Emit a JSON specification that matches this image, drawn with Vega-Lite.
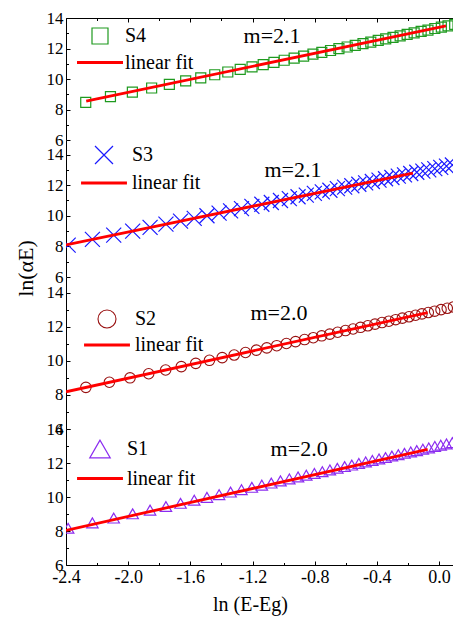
{
"$schema":"https://vega.github.io/schema/vega-lite/v6.json",
"padding":{"top":9,"left":14,"right":0,"bottom":4},
"background":"white",
"datasets":{
"pts":[
{"series":"S4","x":-2.273,"y":8.47},{"series":"S4","x":-2.114,"y":8.84},{"series":"S4","x":-1.973,"y":9.14},{"series":"S4","x":-1.849,"y":9.41},{"series":"S4","x":-1.735,"y":9.65},{"series":"S4","x":-1.630,"y":9.88},{"series":"S4","x":-1.533,"y":10.08},{"series":"S4","x":-1.443,"y":10.28},{"series":"S4","x":-1.359,"y":10.46},{"series":"S4","x":-1.279,"y":10.63},{"series":"S4","x":-1.203,"y":10.79},{"series":"S4","x":-1.131,"y":10.94},{"series":"S4","x":-1.062,"y":11.09},{"series":"S4","x":-0.996,"y":11.23},{"series":"S4","x":-0.932,"y":11.37},{"series":"S4","x":-0.871,"y":11.50},{"series":"S4","x":-0.811,"y":11.63},{"series":"S4","x":-0.754,"y":11.75},{"series":"S4","x":-0.698,"y":11.87},{"series":"S4","x":-0.644,"y":11.99},{"series":"S4","x":-0.591,"y":12.10},{"series":"S4","x":-0.539,"y":12.21},{"series":"S4","x":-0.489,"y":12.32},{"series":"S4","x":-0.439,"y":12.42},{"series":"S4","x":-0.391,"y":12.53},{"series":"S4","x":-0.343,"y":12.63},{"series":"S4","x":-0.296,"y":12.73},{"series":"S4","x":-0.250,"y":12.83},{"series":"S4","x":-0.205,"y":12.93},{"series":"S4","x":-0.160,"y":13.02},{"series":"S4","x":-0.115,"y":13.12},{"series":"S4","x":-0.071,"y":13.21},{"series":"S4","x":-0.027,"y":13.31},{"series":"S4","x":0.015,"y":13.40},{"series":"S4","x":0.058,"y":13.49},{"series":"S4","x":0.101,"y":13.58},
{"series":"S3","x":-2.386,"y":8.08},{"series":"S3","x":-2.230,"y":8.46},{"series":"S3","x":-2.093,"y":8.74},{"series":"S3","x":-1.971,"y":9.00},{"series":"S3","x":-1.859,"y":9.24},{"series":"S3","x":-1.757,"y":9.45},{"series":"S3","x":-1.663,"y":9.65},{"series":"S3","x":-1.575,"y":9.83},{"series":"S3","x":-1.493,"y":10.00},{"series":"S3","x":-1.415,"y":10.17},{"series":"S3","x":-1.341,"y":10.32},{"series":"S3","x":-1.271,"y":10.47},{"series":"S3","x":-1.204,"y":10.61},{"series":"S3","x":-1.140,"y":10.75},{"series":"S3","x":-1.079,"y":10.87},{"series":"S3","x":-1.020,"y":11.00},{"series":"S3","x":-0.963,"y":11.12},{"series":"S3","x":-0.907,"y":11.24},{"series":"S3","x":-0.854,"y":11.35},{"series":"S3","x":-0.802,"y":11.46},{"series":"S3","x":-0.751,"y":11.56},{"series":"S3","x":-0.702,"y":11.67},{"series":"S3","x":-0.654,"y":11.77},{"series":"S3","x":-0.607,"y":11.87},{"series":"S3","x":-0.561,"y":11.96},{"series":"S3","x":-0.516,"y":12.06},{"series":"S3","x":-0.472,"y":12.15},{"series":"S3","x":-0.429,"y":12.24},{"series":"S3","x":-0.386,"y":12.33},{"series":"S3","x":-0.344,"y":12.42},{"series":"S3","x":-0.303,"y":12.50},{"series":"S3","x":-0.262,"y":12.59},{"series":"S3","x":-0.222,"y":12.67},{"series":"S3","x":-0.182,"y":12.76},{"series":"S3","x":-0.143,"y":12.84},{"series":"S3","x":-0.104,"y":12.92},{"series":"S3","x":-0.066,"y":13.00},{"series":"S3","x":-0.027,"y":13.08},{"series":"S3","x":0.011,"y":13.16},{"series":"S3","x":0.048,"y":13.24},{"series":"S3","x":0.086,"y":13.32},
{"series":"S2","x":-2.272,"y":8.45},{"series":"S2","x":-2.121,"y":8.75},{"series":"S2","x":-1.988,"y":9.01},{"series":"S2","x":-1.868,"y":9.25},{"series":"S2","x":-1.759,"y":9.47},{"series":"S2","x":-1.658,"y":9.67},{"series":"S2","x":-1.565,"y":9.86},{"series":"S2","x":-1.477,"y":10.04},{"series":"S2","x":-1.395,"y":10.20},{"series":"S2","x":-1.318,"y":10.35},{"series":"S2","x":-1.245,"y":10.50},{"series":"S2","x":-1.175,"y":10.64},{"series":"S2","x":-1.108,"y":10.77},{"series":"S2","x":-1.044,"y":10.90},{"series":"S2","x":-0.982,"y":11.03},{"series":"S2","x":-0.923,"y":11.14},{"series":"S2","x":-0.865,"y":11.26},{"series":"S2","x":-0.809,"y":11.37},{"series":"S2","x":-0.755,"y":11.48},{"series":"S2","x":-0.703,"y":11.58},{"series":"S2","x":-0.652,"y":11.69},{"series":"S2","x":-0.602,"y":11.79},{"series":"S2","x":-0.553,"y":11.88},{"series":"S2","x":-0.505,"y":11.98},{"series":"S2","x":-0.458,"y":12.07},{"series":"S2","x":-0.412,"y":12.17},{"series":"S2","x":-0.367,"y":12.26},{"series":"S2","x":-0.323,"y":12.34},{"series":"S2","x":-0.279,"y":12.43},{"series":"S2","x":-0.236,"y":12.52},{"series":"S2","x":-0.193,"y":12.60},{"series":"S2","x":-0.151,"y":12.69},{"series":"S2","x":-0.110,"y":12.77},{"series":"S2","x":-0.069,"y":12.85},{"series":"S2","x":-0.028,"y":12.93},{"series":"S2","x":0.013,"y":13.02},{"series":"S2","x":0.053,"y":13.10},{"series":"S2","x":0.093,"y":13.18},
{"series":"S1","x":-2.386,"y":8.16},{"series":"S1","x":-2.230,"y":8.48},{"series":"S1","x":-2.093,"y":8.76},{"series":"S1","x":-1.971,"y":9.01},{"series":"S1","x":-1.859,"y":9.23},{"series":"S1","x":-1.757,"y":9.44},{"series":"S1","x":-1.663,"y":9.63},{"series":"S1","x":-1.575,"y":9.81},{"series":"S1","x":-1.493,"y":9.98},{"series":"S1","x":-1.415,"y":10.14},{"series":"S1","x":-1.341,"y":10.29},{"series":"S1","x":-1.271,"y":10.43},{"series":"S1","x":-1.204,"y":10.57},{"series":"S1","x":-1.140,"y":10.70},{"series":"S1","x":-1.079,"y":10.82},{"series":"S1","x":-1.020,"y":10.95},{"series":"S1","x":-0.963,"y":11.06},{"series":"S1","x":-0.907,"y":11.18},{"series":"S1","x":-0.854,"y":11.28},{"series":"S1","x":-0.802,"y":11.39},{"series":"S1","x":-0.751,"y":11.49},{"series":"S1","x":-0.702,"y":11.59},{"series":"S1","x":-0.654,"y":11.69},{"series":"S1","x":-0.607,"y":11.79},{"series":"S1","x":-0.561,"y":11.88},{"series":"S1","x":-0.516,"y":11.97},{"series":"S1","x":-0.472,"y":12.06},{"series":"S1","x":-0.429,"y":12.15},{"series":"S1","x":-0.386,"y":12.24},{"series":"S1","x":-0.344,"y":12.32},{"series":"S1","x":-0.303,"y":12.41},{"series":"S1","x":-0.262,"y":12.49},{"series":"S1","x":-0.222,"y":12.57},{"series":"S1","x":-0.182,"y":12.65},{"series":"S1","x":-0.143,"y":12.73},{"series":"S1","x":-0.104,"y":12.81},{"series":"S1","x":-0.066,"y":12.89},{"series":"S1","x":-0.027,"y":12.97},{"series":"S1","x":0.011,"y":13.05},{"series":"S1","x":0.048,"y":13.12},{"series":"S1","x":0.086,"y":13.20}
],
"fits":[
{"panel":"S4","series":"linear fit","x":-2.27,"y":8.55},{"panel":"S4","series":"linear fit","x":0.045,"y":13.48},
{"panel":"S3","series":"linear fit","x":-2.4,"y":8.1},{"panel":"S3","series":"linear fit","x":-0.168,"y":12.79},
{"panel":"S2","series":"linear fit","x":-2.4,"y":8.19},{"panel":"S2","series":"linear fit","x":-0.073,"y":12.84},
{"panel":"S1","series":"linear fit","x":-2.4,"y":8.04},{"panel":"S1","series":"linear fit","x":-0.073,"y":12.80}
]
},
"vconcat":[
{
"width":387,"height":122,
"layer":[
{"data":{"name":"pts"},"transform":[{"filter":"datum.series==='S4'"}],
"mark":{"type":"point","filled":false,"size":100,"strokeWidth":1.2,"opacity":1,"clip":true},
"encoding":{
"x":{"field":"x","type":"quantitative","scale":{"domain":[-2.4,0.09],"nice":false,"zero":false},"axis":{"orient":"top","values":[-2.4,-2,-1.6,-1.2,-0.8,-0.4,0],"tickSize":-4,"labels":false,"title":null}},
"y":{"field":"y","type":"quantitative","scale":{"domain":[6,14],"nice":false,"zero":false},"axis":{"orient":"left","values":[6,8,10,12,14],"tickSize":-4,"labelPadding":7,"title":null}},
"color":{"field":"series","type":"nominal","scale":{"domain":["S4","linear fit"],"range":["#1f9a1f","#ff0000"]},"legend":{"orient":"none","legendX":24,"legendY":8,"symbolSize":256,"labelOffset":15,"rowPadding":5.5,"encode":{"symbols":{"update":{"size":{"value":256},"shape":{"signal":"datum.value==='linear fit'?'M-2.875,0L2.875,0':'square'"},"strokeWidth":{"signal":"datum.value==='linear fit'?3:1.2"},"stroke":{"signal":"datum.value==='linear fit'?'#ff0000':'#1f9a1f'"},"fill":{"value":"transparent"},"opacity":{"value":1}}}}}},
"shape":{"field":"series","type":"nominal","scale":{"domain":["S4","linear fit"],"range":["square","M-2.875,0L2.875,0"]},"legend":{"orient":"none","legendX":24,"legendY":8,"symbolSize":256,"labelOffset":15,"rowPadding":5.5,"encode":{"symbols":{"update":{"size":{"value":256},"shape":{"signal":"datum.value==='linear fit'?'M-2.875,0L2.875,0':'square'"},"strokeWidth":{"signal":"datum.value==='linear fit'?3:1.2"},"stroke":{"signal":"datum.value==='linear fit'?'#ff0000':'#1f9a1f'"},"fill":{"value":"transparent"},"opacity":{"value":1}}}}}}
}},
{"data":{"name":"fits"},"transform":[{"filter":"datum.panel==='S4'"}],
"mark":{"type":"line","strokeWidth":2.8,"clip":true},
"encoding":{
"x":{"field":"x","type":"quantitative","axis":{"orient":"top","values":[-2.2,-1.8,-1.4,-1,-0.6,-0.2],"tickSize":-2.5,"labels":false,"domain":false,"title":null}},
"y":{"field":"y","type":"quantitative","axis":{"orient":"left","values":[7,9,11,13],"tickSize":-2.5,"labels":false,"domain":false,"title":null}},
"color":{"field":"series","type":"nominal","legend":{"orient":"none","legendX":24,"legendY":8,"symbolSize":256,"labelOffset":15,"rowPadding":5.5,"encode":{"symbols":{"update":{"size":{"value":256},"shape":{"signal":"datum.value==='linear fit'?'M-2.875,0L2.875,0':'square'"},"strokeWidth":{"signal":"datum.value==='linear fit'?3:1.2"},"stroke":{"signal":"datum.value==='linear fit'?'#ff0000':'#1f9a1f'"},"fill":{"value":"transparent"},"opacity":{"value":1}}}}}}
}},
{"data":{"values":[{"t":"m=2.1"}]},"mark":{"type":"text","fontSize":22,"color":"black"},
"encoding":{"x":{"datum":-1.074,"type":"quantitative","axis":null},"y":{"datum":12.82,"type":"quantitative","axis":null},"text":{"field":"t"}}}
],
"resolve":{"axis":{"x":"independent","y":"independent"}}
},
{
"width":387,"height":137,
"layer":[
{"data":{"name":"pts"},"transform":[{"filter":"datum.series==='S3'"}],
"mark":{"type":"point","filled":false,"size":225,"strokeWidth":1.2,"opacity":1,"clip":true},
"encoding":{
"x":{"field":"x","type":"quantitative","scale":{"domain":[-2.4,0.09],"nice":false,"zero":false},"axis":null},
"y":{"field":"y","type":"quantitative","scale":{"domain":[6,14.95],"nice":false,"zero":false},"axis":{"orient":"left","values":[6,8,10,12,14],"tickSize":-4,"labelPadding":7,"title":"ln(αE)","titleFontSize":22,"titleFontWeight":"normal","titleAngle":270,"titleAlign":"center","titleBaseline":"middle","titleX":-41,"titleY":128}},
"color":{"field":"series","type":"nominal","scale":{"domain":["S3","linear fit"],"range":["#1a1aff","#ff0000"]},"legend":{"orient":"none","legendX":28,"legendY":5,"symbolSize":324,"labelOffset":18,"rowPadding":6,"encode":{"symbols":{"update":{"size":{"value":324},"shape":{"signal":"datum.value==='linear fit'?'M-2.55,0L2.55,0':'M-1,-1L1,1M-1,1L1,-1'"},"strokeWidth":{"signal":"datum.value==='linear fit'?3:1.2"},"stroke":{"signal":"datum.value==='linear fit'?'#ff0000':'#1a1aff'"},"fill":{"value":"transparent"},"opacity":{"value":1}}}}}},
"shape":{"field":"series","type":"nominal","scale":{"domain":["S3","linear fit"],"range":["M-1,-1L1,1M-1,1L1,-1","M-2.55,0L2.55,0"]},"legend":{"orient":"none","legendX":28,"legendY":5,"symbolSize":324,"labelOffset":18,"rowPadding":6,"encode":{"symbols":{"update":{"size":{"value":324},"shape":{"signal":"datum.value==='linear fit'?'M-2.55,0L2.55,0':'M-1,-1L1,1M-1,1L1,-1'"},"strokeWidth":{"signal":"datum.value==='linear fit'?3:1.2"},"stroke":{"signal":"datum.value==='linear fit'?'#ff0000':'#1a1aff'"},"fill":{"value":"transparent"},"opacity":{"value":1}}}}}}
}},
{"data":{"name":"fits"},"transform":[{"filter":"datum.panel==='S3'"}],
"mark":{"type":"line","strokeWidth":2.8,"clip":true},
"encoding":{
"x":{"field":"x","type":"quantitative","axis":null},
"y":{"field":"y","type":"quantitative","axis":{"orient":"left","values":[7,9,11,13],"tickSize":-2.5,"labels":false,"domain":false,"title":null}},
"color":{"field":"series","type":"nominal","legend":{"orient":"none","legendX":28,"legendY":5,"symbolSize":324,"labelOffset":18,"rowPadding":6,"encode":{"symbols":{"update":{"size":{"value":324},"shape":{"signal":"datum.value==='linear fit'?'M-2.55,0L2.55,0':'M-1,-1L1,1M-1,1L1,-1'"},"strokeWidth":{"signal":"datum.value==='linear fit'?3:1.2"},"stroke":{"signal":"datum.value==='linear fit'?'#ff0000':'#1a1aff'"},"fill":{"value":"transparent"},"opacity":{"value":1}}}}}}
}},
{"data":{"values":[{"t":"m=2.1"}]},"mark":{"type":"text","fontSize":22,"color":"black"},
"encoding":{"x":{"datum":-0.94,"type":"quantitative","axis":null},"y":{"datum":13.02,"type":"quantitative","axis":null},"text":{"field":"t"}}}
],
"resolve":{"axis":{"x":"independent","y":"independent"}}
},
{
"width":387,"height":152,
"layer":[
{"data":{"name":"pts"},"transform":[{"filter":"datum.series==='S2'"}],
"mark":{"type":"point","filled":false,"size":110,"strokeWidth":1.1,"opacity":1,"clip":true},
"encoding":{
"x":{"field":"x","type":"quantitative","scale":{"domain":[-2.4,0.09],"nice":false,"zero":false},"axis":null},
"y":{"field":"y","type":"quantitative","scale":{"domain":[6,14.94],"nice":false,"zero":false},"axis":{"orient":"left","values":[6,8,10,12,14],"tickSize":-4,"labelPadding":7,"title":null}},
"color":{"field":"series","type":"nominal","scale":{"domain":["S2","linear fit"],"range":["#991111","#ff0000"]},"legend":{"orient":"none","legendX":31,"legendY":32,"symbolSize":324,"labelOffset":18,"rowPadding":4,"encode":{"symbols":{"update":{"size":{"value":324},"shape":{"signal":"datum.value==='linear fit'?'M-2.55,0L2.55,0':'circle'"},"strokeWidth":{"signal":"datum.value==='linear fit'?3:1.1"},"stroke":{"signal":"datum.value==='linear fit'?'#ff0000':'#991111'"},"fill":{"value":"transparent"},"opacity":{"value":1}}}}}},
"shape":{"field":"series","type":"nominal","scale":{"domain":["S2","linear fit"],"range":["circle","M-2.55,0L2.55,0"]},"legend":{"orient":"none","legendX":31,"legendY":32,"symbolSize":324,"labelOffset":18,"rowPadding":4,"encode":{"symbols":{"update":{"size":{"value":324},"shape":{"signal":"datum.value==='linear fit'?'M-2.55,0L2.55,0':'circle'"},"strokeWidth":{"signal":"datum.value==='linear fit'?3:1.1"},"stroke":{"signal":"datum.value==='linear fit'?'#ff0000':'#991111'"},"fill":{"value":"transparent"},"opacity":{"value":1}}}}}}
}},
{"data":{"name":"fits"},"transform":[{"filter":"datum.panel==='S2'"}],
"mark":{"type":"line","strokeWidth":2.8,"clip":true},
"encoding":{
"x":{"field":"x","type":"quantitative","axis":null},
"y":{"field":"y","type":"quantitative","axis":{"orient":"left","values":[7,9,11,13],"tickSize":-2.5,"labels":false,"domain":false,"title":null}},
"color":{"field":"series","type":"nominal","legend":{"orient":"none","legendX":31,"legendY":32,"symbolSize":324,"labelOffset":18,"rowPadding":4,"encode":{"symbols":{"update":{"size":{"value":324},"shape":{"signal":"datum.value==='linear fit'?'M-2.55,0L2.55,0':'circle'"},"strokeWidth":{"signal":"datum.value==='linear fit'?3:1.1"},"stroke":{"signal":"datum.value==='linear fit'?'#ff0000':'#991111'"},"fill":{"value":"transparent"},"opacity":{"value":1}}}}}}
}},
{"data":{"values":[{"t":"m=2.0"}]},"mark":{"type":"text","fontSize":22,"color":"black"},
"encoding":{"x":{"datum":-1.03,"type":"quantitative","axis":null},"y":{"datum":12.82,"type":"quantitative","axis":null},"text":{"field":"t"}}}
],
"resolve":{"axis":{"x":"independent","y":"independent"}}
},
{
"width":387,"height":136,
"layer":[
{"data":{"name":"pts"},"transform":[{"filter":"datum.series==='S1'"}],
"mark":{"type":"point","filled":false,"size":130,"strokeWidth":1.2,"opacity":1,"clip":true},
"encoding":{
"x":{"field":"x","type":"quantitative","scale":{"domain":[-2.4,0.09],"nice":false,"zero":false},"axis":{"orient":"bottom","values":[-2.4,-2,-1.6,-1.2,-0.8,-0.4,0],"tickSize":-4,"labelPadding":7,"labelFontSize":18,"labelExpr":"replace(format(datum.value,'.1f'),'−','-')","title":"ln (E-Eg)","titleFontSize":20,"titleFontWeight":"normal","titlePadding":8,"titleX":184}},
"y":{"field":"y","type":"quantitative","scale":{"domain":[6,14],"nice":false,"zero":false},"axis":{"orient":"left","values":[6,8,10,12,14],"tickSize":-4,"labelPadding":7,"title":null}},
"color":{"field":"series","type":"nominal","scale":{"domain":["S1","linear fit"],"range":["#8b2cf0","#ff0000"]},"legend":{"orient":"none","legendX":24,"legendY":10,"symbolSize":420,"labelOffset":17,"rowPadding":7.5,"encode":{"symbols":{"update":{"size":{"value":420},"shape":{"signal":"datum.value==='linear fit'?'M-2.24,0L2.24,0':'triangle-up'"},"strokeWidth":{"signal":"datum.value==='linear fit'?3:1.2"},"stroke":{"signal":"datum.value==='linear fit'?'#ff0000':'#8b2cf0'"},"fill":{"value":"transparent"},"opacity":{"value":1}}}}}},
"shape":{"field":"series","type":"nominal","scale":{"domain":["S1","linear fit"],"range":["triangle-up","M-2.24,0L2.24,0"]},"legend":{"orient":"none","legendX":24,"legendY":10,"symbolSize":420,"labelOffset":17,"rowPadding":7.5,"encode":{"symbols":{"update":{"size":{"value":420},"shape":{"signal":"datum.value==='linear fit'?'M-2.24,0L2.24,0':'triangle-up'"},"strokeWidth":{"signal":"datum.value==='linear fit'?3:1.2"},"stroke":{"signal":"datum.value==='linear fit'?'#ff0000':'#8b2cf0'"},"fill":{"value":"transparent"},"opacity":{"value":1}}}}}}
}},
{"data":{"name":"fits"},"transform":[{"filter":"datum.panel==='S1'"}],
"mark":{"type":"line","strokeWidth":2.8,"clip":true},
"encoding":{
"x":{"field":"x","type":"quantitative","axis":{"orient":"bottom","values":[-2.2,-1.8,-1.4,-1,-0.6,-0.2],"tickSize":-2.5,"labels":false,"domain":false,"title":null}},
"y":{"field":"y","type":"quantitative","axis":{"orient":"left","values":[7,9,11,13],"tickSize":-2.5,"labels":false,"domain":false,"title":null}},
"color":{"field":"series","type":"nominal","legend":{"orient":"none","legendX":24,"legendY":10,"symbolSize":420,"labelOffset":17,"rowPadding":7.5,"encode":{"symbols":{"update":{"size":{"value":420},"shape":{"signal":"datum.value==='linear fit'?'M-2.24,0L2.24,0':'triangle-up'"},"strokeWidth":{"signal":"datum.value==='linear fit'?3:1.2"},"stroke":{"signal":"datum.value==='linear fit'?'#ff0000':'#8b2cf0'"},"fill":{"value":"transparent"},"opacity":{"value":1}}}}}}
}},
{"data":{"values":[{"t":"m=2.0"}]},"mark":{"type":"text","fontSize":22,"color":"black"},
"encoding":{"x":{"datum":-0.90,"type":"quantitative","axis":null},"y":{"datum":12.82,"type":"quantitative","axis":null},"text":{"field":"t"}}}
],
"resolve":{"axis":{"x":"independent","y":"independent"}}
}
],
"spacing":0,
"bounds":"flush",
"resolve":{"scale":{"color":"independent","shape":"independent","x":"independent","y":"independent"},"legend":{"color":"independent","shape":"independent"}},
"config":{
"view":{"stroke":null},
"font":"Liberation Serif, Times New Roman, DejaVu Serif, serif",
"text":{"font":"Liberation Serif, Times New Roman, DejaVu Serif, serif"},
"axis":{"domainColor":"black","domainWidth":1,"tickColor":"black","tickWidth":1,"labelColor":"black","titleColor":"black","grid":false,"labelFont":"Liberation Serif, Times New Roman, DejaVu Serif, serif","titleFont":"Liberation Serif, Times New Roman, DejaVu Serif, serif","labelFontSize":17,"labelFlush":false,"labelOverlap":false,"labelBound":false},
"legend":{"title":null,"padding":0,"labelFont":"Liberation Serif, Times New Roman, DejaVu Serif, serif","labelFontSize":20,"labelColor":"black","symbolStrokeWidth":1.2,"symbolFillColor":"transparent","labelLimit":200}
}
}
